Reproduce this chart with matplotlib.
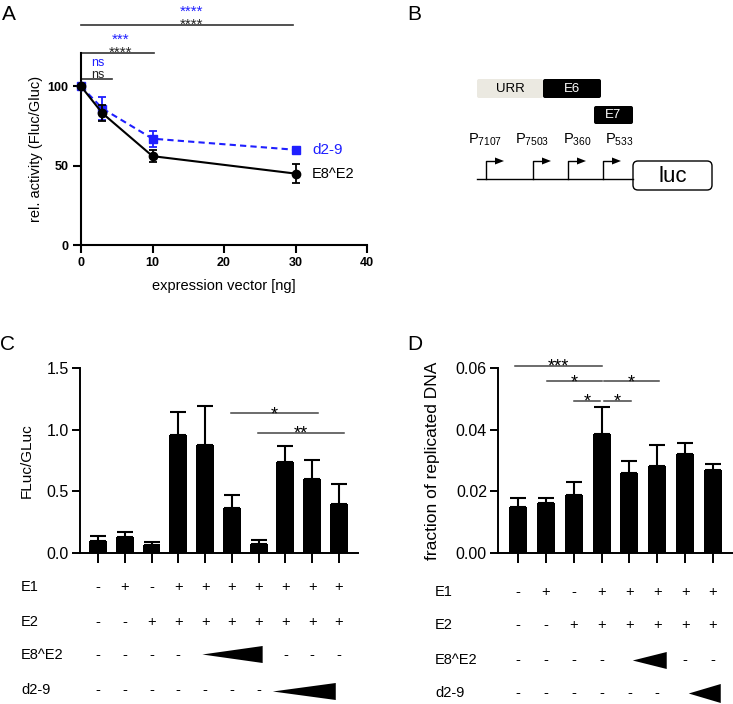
import matplotlib
matplotlib.use('Agg')
import matplotlib.pyplot as plt
from matplotlib.patches import FancyBboxPatch, Polygon
from matplotlib.transforms import blended_transform_factory as btf

plt.rcParams['font.family'] = ['Liberation Sans', 'DejaVu Sans']
plt.rcParams['mathtext.fontset'] = 'custom'
plt.rcParams['mathtext.rm'] = 'Liberation Sans'
plt.rcParams['mathtext.it'] = 'Liberation Sans:italic'
plt.rcParams['mathtext.bf'] = 'Liberation Sans:bold'

W, H = 733, 704

# ---------------- data ----------------
# Panel A
dose = [0, 3, 10, 30]
e8e2_mean = [100, 83, 56, 45]
e8e2_err = [0, 5, 4, 6]
d29_mean = [100, 86, 67, 60]
d29_err = [0, 7, 5, 2]

# Panel C
c_vals = [0.10, 0.13, 0.063, 0.955, 0.872, 0.366, 0.074, 0.739, 0.603, 0.397]
c_errs = [0.035, 0.04, 0.027, 0.19, 0.323, 0.107, 0.03, 0.127, 0.154, 0.165]
c_E1 = ['-', '+', '-', '+', '+', '+', '+', '+', '+', '+']
c_E2 = ['-', '-', '+', '+', '+', '+', '+', '+', '+', '+']
c_E8 = ['-', '-', '-', '-', '', '', '', '-', '-', '-']
c_d29 = ['-', '-', '-', '-', '-', '-', '-', '', '', '']

# Panel D
d_vals = [0.0149, 0.0162, 0.0189, 0.0387, 0.0260, 0.0283, 0.0321, 0.0268]
d_errs = [0.0029, 0.0018, 0.0040, 0.0085, 0.0040, 0.0068, 0.0036, 0.0022]
d_E1 = ['-', '+', '-', '+', '+', '+', '+', '+']
d_E2 = ['-', '-', '+', '+', '+', '+', '+', '+']
d_E8 = ['-', '-', '-', '-', '', '', '-', '-']
d_d29 = ['-', '-', '-', '-', '-', '-', '', '']

BLUE = '#1f1fff'

fig = plt.figure(figsize=(W / 100, H / 100), dpi=100)

def px_axes(l, t, r, b):
    return fig.add_axes([l / W, 1 - b / H, (r - l) / W, (b - t) / H])

ov = fig.add_axes([0, 0, 1, 1])
ov.set_xlim(0, W)
ov.set_ylim(H, 0)
ov.axis('off')
ov.patch.set_visible(False)

# panel letters
for lab, x, y in [('A', 2, 20), ('B', 407, 20), ('C', 0, 350), ('D', 407, 350)]:
    ov.text(x, y, lab, fontsize=15, va='baseline', ha='left')

# ---------------- Panel A ----------------
axA = px_axes(81, 53, 367, 245)
axA.set_xlim(0, 40)
axA.set_ylim(0, 121)
for s in ['top', 'right']:
    axA.spines[s].set_visible(False)
for s in ['left', 'bottom']:
    axA.spines[s].set_linewidth(1.5)
axA.set_xticks([0, 10, 20, 30, 40])
axA.set_yticks([0, 50, 100])
axA.tick_params(width=1.5, length=6, labelsize=9, pad=3)
for t in axA.get_xticklabels() + axA.get_yticklabels():
    t.set_fontweight('bold')
axA.set_xlabel('expression vector [ng]', fontsize=10.5, labelpad=7)
axA.set_ylabel('rel. activity (Fluc/Gluc)', fontsize=10.5, labelpad=3)

axA.errorbar(dose, d29_mean, yerr=d29_err, color=BLUE, ls=(0, (3, 2)), lw=1.5,
             marker='s', ms=5.5, capsize=3, capthick=1.3, elinewidth=1.3, clip_on=False, zorder=3)
axA.errorbar(dose, e8e2_mean, yerr=e8e2_err, color='black', ls='-', lw=1.5,
             marker='o', ms=6, capsize=3, capthick=1.3, elinewidth=1.3, clip_on=False, zorder=4)
axA.text(32.3, d29_mean[-1], 'd2-9', color=BLUE, fontsize=11, va='center', ha='left')
axA.text(32.3, e8e2_mean[-1], 'E8^E2', color='black', fontsize=10.5, va='center', ha='left')

# significance brackets A
def sigA(x1, y, txt_black, txt_blue, xc, off_black, off_blue, fs):
    axA.plot([0, x1], [y, y], color='#333333', lw=1.2, clip_on=False)
    axA.annotate(txt_black, xy=(xc, y), xytext=(0, off_black), textcoords='offset points',
                 ha='center', va='baseline', fontsize=fs, color='#222222', annotation_clip=False)
    axA.annotate(txt_blue, xy=(xc, y), xytext=(0, off_blue), textcoords='offset points',
                 ha='center', va='baseline', fontsize=fs, color=BLUE, annotation_clip=False)

sigA(4.4, 104.5, 'ns', 'ns', 2.4, 0.8, 9.6, 9)
sigA(10.2, 121, '****', '***', 5.5, -2.6, 6.4, 11)
sigA(29.7, 138.5, '****', '****', 15.5, -2.6, 7.0, 11)

# ---------------- Panel B ----------------
ov.add_patch(FancyBboxPatch((477, 79), 66, 19, boxstyle='round,pad=0,rounding_size=2',
                            fc='#ebe9e1', ec='none'))
ov.add_patch(FancyBboxPatch((543, 79), 58, 19, boxstyle='round,pad=0,rounding_size=2',
                            fc='black', ec='none'))
ov.add_patch(FancyBboxPatch((594, 106), 39, 18, boxstyle='round,pad=0,rounding_size=2',
                            fc='black', ec='none'))
ov.text(510, 89, 'URR', fontsize=9.5, ha='center', va='center', color='black')
ov.text(572, 89, 'E6', fontsize=9.5, ha='center', va='center', color='white')
ov.text(613.5, 115.5, 'E7', fontsize=9.5, ha='center', va='center', color='white')
ov.plot([477, 633], [179, 179], color='black', lw=1.0)
for x in [486, 533, 568, 603]:
    ov.plot([x, x, x + 10], [179, 161, 161], color='black', lw=1.0)
    ov.add_patch(Polygon([[x + 9, 157.5], [x + 9, 164.5], [x + 18, 161]], closed=True,
                         fc='black', ec='none'))
for lab, x in [('7107', 468), ('7503', 515), ('360', 563), ('533', 605)]:
    ov.text(x, 144, r'$\mathrm{P}_{\mathrm{%s}}$' % lab, fontsize=10.5, ha='left', va='baseline')
ov.add_patch(FancyBboxPatch((633, 161), 79, 29, boxstyle='round,pad=0,rounding_size=5',
                            fc='white', ec='black', lw=1.0))
ov.text(672.5, 176, 'luc', fontsize=16, ha='center', va='center')

# ---------------- bar panels helper ----------------
def bar_panel(ax, vals, errs, xlim, ylim, yticks, yfmt, width):
    n = len(vals)
    xs = list(range(n))
    ax.bar(xs, vals, width=width, color='black', zorder=2)
    ax.errorbar(xs, vals, yerr=[[0] * n, errs], fmt='none', ecolor='black',
                elinewidth=1.5, capsize=6, capthick=1.5, zorder=1)
    ax.set_xlim(*xlim)
    ax.set_ylim(*ylim)
    ax.set_xticks(xs)
    ax.set_xticklabels([])
    ax.set_yticks(yticks)
    ax.set_yticklabels([yfmt.format(v) for v in yticks])
    for s in ['top', 'right']:
        ax.spines[s].set_visible(False)
    for s in ['left', 'bottom']:
        ax.spines[s].set_linewidth(1.4)
    ax.tick_params(axis='x', width=1.4, length=7)
    ax.tick_params(axis='y', width=1.4, length=6, labelsize=11.5, pad=2)

def cond_rows(ax, rows, labels, ys, label_x, wedges):
    tr = btf(ax.transData, ov.transData)
    for row, lab, y in zip(rows, labels, ys):
        ov.text(label_x, y, lab, fontsize=10.5, ha='left', va='center')
        for i, s in enumerate(row):
            if s:
                ax.text(i, y, s, fontsize=10.5, ha='center', va='center', transform=tr, clip_on=False)
    for (x0, x1, yc, h) in wedges:
        ax.add_patch(Polygon([[x0, yc], [x1, yc - h / 2], [x1, yc + h / 2]], closed=True,
                             fc='black', ec='none', transform=tr, clip_on=False))

def sig(ax, x0, x1, y, txt, off):
    ax.plot([x0, x1], [y, y], color='#444444', lw=1.1, clip_on=False)
    ax.annotate(txt, xy=((x0 + x1) / 2, y), xytext=(0, off), textcoords='offset points',
                ha='center', va='baseline', fontsize=13, annotation_clip=False)

# ---------------- Panel C ----------------
axC = px_axes(80, 368, 358, 553)
bar_panel(axC, c_vals, c_errs, (-0.67, 9.71), (0, 1.5), [0.0, 0.5, 1.0, 1.5], '{:.1f}', 0.67)
axC.set_ylabel('FLuc/GLuc', fontsize=11, labelpad=9)
sig(axC, 4.97, 8.2, 1.135, '*', -4.3)
sig(axC, 5.98, 9.2, 0.973, '**', -4.3)
cond_rows(axC, [c_E1, c_E2, c_E8, c_d29], ['E1', 'E2', 'E8^E2', 'd2-9'],
          [587, 622, 655, 690], 21,
          [(3.9, 6.15, 654.5, 17), (6.53, 8.88, 691.5, 17)])

# ---------------- Panel D ----------------
axD = px_axes(498, 368, 733, 553)
bar_panel(axD, d_vals, d_errs, (-0.72, 7.72), (0, 0.06), [0.0, 0.02, 0.04, 0.06], '{:.2f}', 0.65)
axD.set_ylabel('fraction of replicated DNA', fontsize=12.5, labelpad=11)
sig(axD, -0.1, 3.0, 0.0608, '***', -4.3)
sig(axD, 1.05, 3.0, 0.0557, '*', -4.3)
sig(axD, 3.1, 5.05, 0.0557, '*', -4.3)
sig(axD, 2.0, 2.95, 0.0494, '*', -4.3)
sig(axD, 3.1, 4.05, 0.0494, '*', -4.3)
cond_rows(axD, [d_E1, d_E2, d_E8, d_d29], ['E1', 'E2', 'E8^E2', 'd2-9'],
          [592, 625, 660, 693], 435,
          [(4.12, 5.34, 660.5, 17), (6.13, 7.28, 693.5, 19)])

fig.savefig('out.png', dpi=100)
